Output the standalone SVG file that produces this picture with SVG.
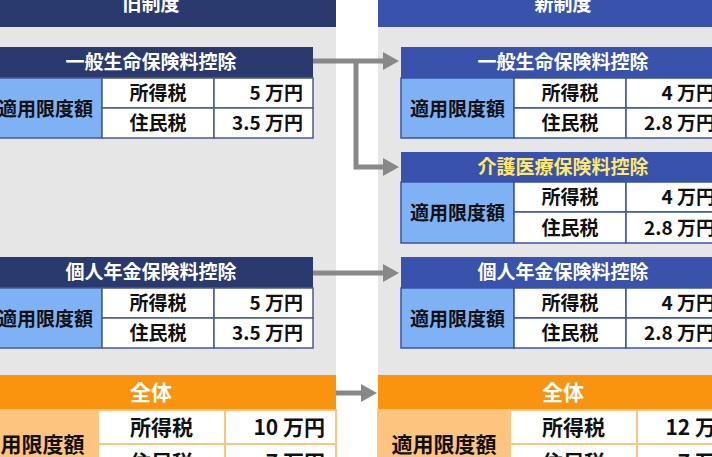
<svg xmlns="http://www.w3.org/2000/svg" width="712" height="457" viewBox="0 0 712 457">
<defs>
<style>
.t{font-family:"Noto Sans CJK JP","Noto Sans",sans-serif;font-weight:bold}
.f19{font-size:19px}
.f21{font-size:21px}
.w{fill:#ffffff}
.k{fill:#111111}
.y{fill:#ffe86e}
.c{text-anchor:middle}
.r{text-anchor:end}
.hOld{fill:#2b3a6e}
.hNew{fill:#3953ac}
.lbl{fill:#7fb2f5;stroke:#4a5a92;stroke-width:1.5}
.lblN{fill:#7fb2f5;stroke:#3953ac;stroke-width:1.5}
.cell{fill:#ffffff;stroke:#4a5a92;stroke-width:1.5}
.cellN{fill:#ffffff;stroke:#3953ac;stroke-width:1.5}
.oh{fill:#fa930d}
.ol{fill:#fdc47f;stroke:#fdc47f;stroke-width:2}
.oc{fill:#ffffff;stroke:#fdc47f;stroke-width:2}
.ln{fill:none;stroke:#888888;stroke-width:5}
.ah{fill:#888888}
</style>
</defs>
<rect x="0" y="0" width="712" height="457" fill="#ffffff"/>

<g id="panel-old">
<rect x="0" y="27" width="336" height="430" fill="#e6e6e6"/>
<rect x="0" y="0" width="336" height="27" class="hOld"/>
<text x="151" y="11" class="t f19 w c">旧制度</text>
</g>
<g id="panel-new">
<rect x="378" y="27" width="334" height="430" fill="#e6e6e6"/>
<rect x="378" y="0" width="334" height="27" class="hNew"/>
<text x="563" y="11" class="t f19 w c">新制度</text>
</g>

<g id="connectors">
<path d="M313 61H384" class="ln"/>
<polygon points="383,52 399,61 383,70" class="ah"/>
<path d="M356 61V167H384" class="ln"/>
<polygon points="383,158 399,167 383,176" class="ah"/>
<path d="M313 273H384" class="ln"/>
<polygon points="383,264 399,273 383,282" class="ah"/>
<path d="M336 393H362" class="ln"/>
<polygon points="361,384 377,393 361,402" class="ah"/>
</g>

<g id="old-general">
<rect x="-11" y="47" width="324" height="31" class="hOld"/>
<rect x="-11" y="78" width="113" height="60" class="lbl"/>
<rect x="102" y="78" width="112" height="30" class="cell"/>
<rect x="214" y="78" width="99" height="30" class="cell"/>
<rect x="102" y="108" width="112" height="30" class="cell"/>
<rect x="214" y="108" width="99" height="30" class="cell"/>
<text x="151" y="69" class="t f19 w c">一般生命保険料控除</text>
<text x="45.5" y="116" class="t f19 k c">適用限度額</text>
<text x="158" y="100" class="t f19 k c">所得税</text>
<text x="158" y="130" class="t f19 k c">住民税</text>
<text x="303" y="100" class="t f19 k r">5 万円</text>
<text x="303" y="130" class="t f19 k r">3.5 万円</text>
</g>

<g id="old-pension">
<rect x="-11" y="257" width="324" height="31" class="hOld"/>
<rect x="-11" y="288" width="113" height="60" class="lbl"/>
<rect x="102" y="288" width="112" height="30" class="cell"/>
<rect x="214" y="288" width="99" height="30" class="cell"/>
<rect x="102" y="318" width="112" height="30" class="cell"/>
<rect x="214" y="318" width="99" height="30" class="cell"/>
<text x="151" y="279" class="t f19 w c">個人年金保険料控除</text>
<text x="45.5" y="326" class="t f19 k c">適用限度額</text>
<text x="158" y="310" class="t f19 k c">所得税</text>
<text x="158" y="340" class="t f19 k c">住民税</text>
<text x="303" y="310" class="t f19 k r">5 万円</text>
<text x="303" y="340" class="t f19 k r">3.5 万円</text>
</g>

<g id="new-general">
<rect x="401" y="47" width="324" height="31" class="hNew"/>
<rect x="401" y="78" width="113" height="60" class="lblN"/>
<rect x="514" y="78" width="112" height="30" class="cellN"/>
<rect x="626" y="78" width="99" height="30" class="cellN"/>
<rect x="514" y="108" width="112" height="30" class="cellN"/>
<rect x="626" y="108" width="99" height="30" class="cellN"/>
<text x="563" y="69" class="t f19 w c">一般生命保険料控除</text>
<text x="457.5" y="116" class="t f19 k c">適用限度額</text>
<text x="570" y="100" class="t f19 k c">所得税</text>
<text x="570" y="130" class="t f19 k c">住民税</text>
<text x="715" y="100" class="t f19 k r">4 万円</text>
<text x="715" y="130" class="t f19 k r">2.8 万円</text>
</g>

<g id="new-medical">
<rect x="401" y="152" width="324" height="30" class="hNew"/>
<rect x="401" y="182" width="113" height="61" class="lblN"/>
<rect x="514" y="182" width="112" height="30" class="cellN"/>
<rect x="626" y="182" width="99" height="30" class="cellN"/>
<rect x="514" y="212" width="112" height="31" class="cellN"/>
<rect x="626" y="212" width="99" height="31" class="cellN"/>
<text x="563" y="174" class="t f19 y c">介護医療保険料控除</text>
<text x="457.5" y="220" class="t f19 k c">適用限度額</text>
<text x="570" y="204" class="t f19 k c">所得税</text>
<text x="570" y="235" class="t f19 k c">住民税</text>
<text x="715" y="204" class="t f19 k r">4 万円</text>
<text x="715" y="235" class="t f19 k r">2.8 万円</text>
</g>

<g id="new-pension">
<rect x="401" y="257" width="324" height="31" class="hNew"/>
<rect x="401" y="288" width="113" height="60" class="lblN"/>
<rect x="514" y="288" width="112" height="30" class="cellN"/>
<rect x="626" y="288" width="99" height="30" class="cellN"/>
<rect x="514" y="318" width="112" height="30" class="cellN"/>
<rect x="626" y="318" width="99" height="30" class="cellN"/>
<text x="563" y="279" class="t f19 w c">個人年金保険料控除</text>
<text x="457.5" y="326" class="t f19 k c">適用限度額</text>
<text x="570" y="310" class="t f19 k c">所得税</text>
<text x="570" y="340" class="t f19 k c">住民税</text>
<text x="715" y="310" class="t f19 k r">4 万円</text>
<text x="715" y="340" class="t f19 k r">2.8 万円</text>
</g>

<g id="old-total">
<rect x="-34" y="375" width="370" height="35" class="oh"/>
<rect x="-34" y="410" width="132" height="68" class="ol"/>
<rect x="98" y="410" width="127" height="34" class="oc"/>
<rect x="225" y="410" width="111" height="34" class="oc"/>
<rect x="98" y="444" width="127" height="34" class="oc"/>
<rect x="225" y="444" width="111" height="34" class="oc"/>
<text x="151" y="400" class="t f21 w c">全体</text>
<text x="32" y="452" class="t f21 k c">適用限度額</text>
<text x="161.5" y="435" class="t f21 k c">所得税</text>
<text x="161.5" y="470" class="t f21 k c">住民税</text>
<text x="325" y="435" class="t f21 k r">10 万円</text>
<text x="325" y="470" class="t f21 k r">7 万円</text>
</g>

<g id="new-total">
<rect x="378" y="375" width="370" height="35" class="oh"/>
<rect x="378" y="410" width="132" height="68" class="ol"/>
<rect x="510" y="410" width="127" height="34" class="oc"/>
<rect x="637" y="410" width="111" height="34" class="oc"/>
<rect x="510" y="444" width="127" height="34" class="oc"/>
<rect x="637" y="444" width="111" height="34" class="oc"/>
<text x="563" y="400" class="t f21 w c">全体</text>
<text x="444" y="452" class="t f21 k c">適用限度額</text>
<text x="573.5" y="435" class="t f21 k c">所得税</text>
<text x="573.5" y="470" class="t f21 k c">住民税</text>
<text x="737" y="435" class="t f21 k r">12 万円</text>
<text x="737" y="470" class="t f21 k r">7 万円</text>
</g>
</svg>
